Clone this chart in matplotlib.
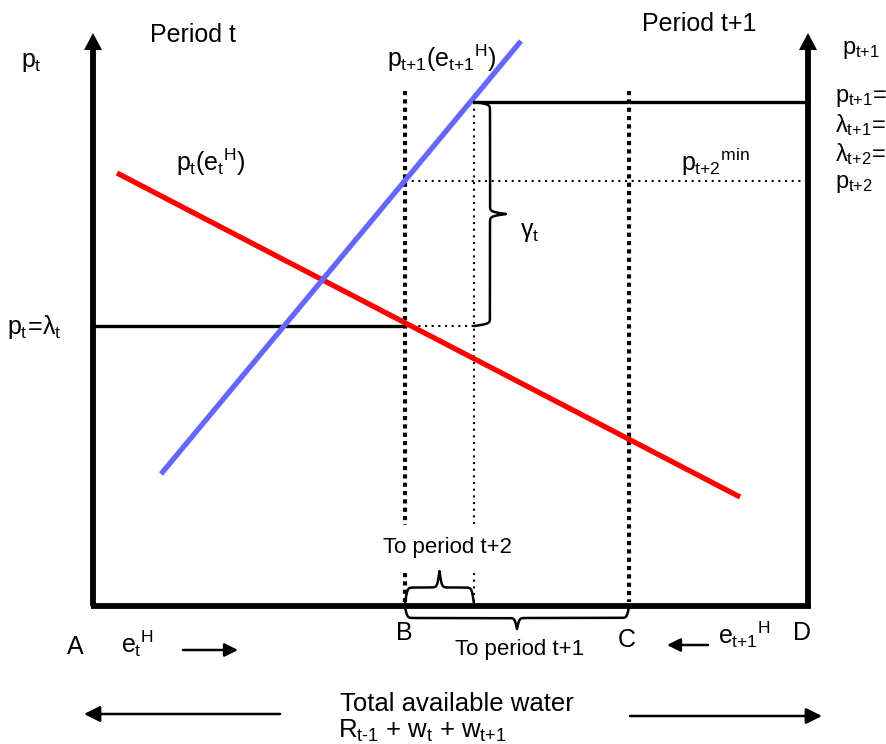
import numpy as np
import matplotlib
matplotlib.use("Agg")
import matplotlib.pyplot as plt

plt.rcParams['font.family'] = ['Liberation Sans', 'DejaVu Sans']
plt.rcParams['mathtext.fontset'] = 'custom'
plt.rcParams['mathtext.rm'] = 'Liberation Sans'
plt.rcParams['mathtext.it'] = 'Liberation Sans'
plt.rcParams['mathtext.bf'] = 'Liberation Sans:bold'

# diagram geometry, in picture units (x to the right, y downwards)
axis_left = 93
axis_right = 808
axis_bottom = 606
axis_top = 33

# demand curves
red_x = [117, 740]
red_y = [173, 497]
blue_x = [161, 521]
blue_y = [474, 41]

# points B, C and the cross point
x_B = 405
x_C = 629
x_cross = 474
p_t = 326
p_t1 = 102
p_min = 181

fig = plt.figure(figsize=(8.86, 7.44), dpi=100)
ax = fig.add_axes([0, 0, 1, 1])
ax.set_xlim(0, 886)
ax.set_ylim(744, 0)
ax.axis('off')


def brace(ax, a, b, pos, h, vertical, lw=1.8):
    # curly brace from a to b along one direction, bulging by h
    L = b - a
    u = np.linspace(0, L / 2, 300)
    k = 0.9
    sig = lambda z: 1 / (1 + np.exp(-z))
    v = sig(k * u) - 0.5 + sig(k * (u - L / 2))
    v = v - v[0]
    v = v / v[-1]
    uu = np.concatenate([u, L - u[::-1]]) + a
    vv = np.concatenate([v, v[::-1]]) * h + pos
    if vertical:
        ax.plot(vv, uu, color='black', lw=lw, solid_capstyle='round')
    else:
        ax.plot(uu, vv, color='black', lw=lw, solid_capstyle='round')


# axes
ax.plot([axis_left, axis_left], [axis_bottom, axis_top + 15], color='black', lw=4.2, solid_capstyle='butt')
ax.plot([axis_right, axis_right], [axis_bottom, axis_top + 15], color='black', lw=4.2, solid_capstyle='butt')
ax.plot([axis_left - 2, axis_right + 3], [axis_bottom, axis_bottom], color='black', lw=4.2, solid_capstyle='butt')
for xa in [axis_left, axis_right]:
    ax.fill([xa - 9, xa + 9, xa], [axis_top + 17, axis_top + 17, axis_top], color='black', lw=0)

# price levels
ax.plot([axis_left, x_B], [p_t, p_t], color='black', lw=2.4)
ax.plot([x_B, x_cross], [p_t, p_t], color='black', lw=1.5, ls=(0, (1, 2.2)))
ax.plot([x_cross, axis_right], [p_t1, p_t1], color='black', lw=2.4)
ax.plot([x_B, axis_right], [p_min, p_min], color='black', lw=1.5, ls=(0, (1, 2.2)))

# vertical dotted lines
ax.plot([x_B, x_B], [91, 525], color='black', lw=3.0, ls=(0, (1, 1)), dash_capstyle='butt')
ax.plot([x_B, x_B], [573, 602], color='black', lw=3.0, ls=(0, (1, 1)), dash_capstyle='butt')
ax.plot([x_C, x_C], [91, 602], color='black', lw=3.0, ls=(0, (1, 1)), dash_capstyle='butt')
ax.plot([x_cross, x_cross], [p_t1, 525], color='black', lw=1.5, ls=(0, (1, 2.2)))
ax.plot([x_cross, x_cross], [573, 604], color='black', lw=1.5, ls=(0, (1, 2.2)))

# curves
ax.plot(red_x, red_y, color='#ff0000', lw=3.8, solid_capstyle='butt')
ax.plot(blue_x, blue_y, color='#6666ff', lw=3.8, solid_capstyle='butt')

# braces
brace(ax, p_t1, p_t, x_cross, 32, vertical=True)
brace(ax, x_B, x_cross, 604, -33, vertical=False)
brace(ax, x_B, x_C, 607, 22, vertical=False)

fs = 18
ax.text(150, 35, 'Period t', fontsize=fs, va='center', ha='left')
ax.text(642, 24, 'Period t+1', fontsize=fs, va='center', ha='left')
ax.text(21, 62, r'$p_t$', fontsize=fs, va='center', ha='left')
ax.text(842, 50, r'$p_{\text{t+1}}$', fontsize=17, va='center', ha='left')
ax.text(176, 162, r'$p_t(e_t{}^H)$', fontsize=fs, va='center', ha='left')
ax.text(387, 58, r'$p_{\text{t+1}}(e_{\text{t+1}}{}^H)$', fontsize=fs, va='center', ha='left')
ax.text(681, 162, r'$p_{\text{t+2}}{}^{min}$', fontsize=fs, va='center', ha='left')
ax.text(7, 327, r'$p_t\!=\!λ_t$', fontsize=fs, va='center', ha='left')
ax.text(520, 232, r'$γ_t$', fontsize=fs, va='center', ha='left')
right_labels = [r'$p_{\text{t+1}}\!=$', r'$λ_{\text{t+1}}\!=$', r'$λ_{\text{t+2}}\!=$', r'$p_{\text{t+2}}$']
right_y = [98, 125, 154, 184]
for lab, yy in zip(right_labels, right_y):
    ax.text(835, yy, lab, fontsize=17, va='center', ha='left')

ax.text(383, 547, 'To period t+2', fontsize=16, va='center', ha='left')
ax.text(455, 650, 'To period t+1', fontsize=16, va='center', ha='left')
ax.text(67, 647, 'A', fontsize=fs, va='center', ha='left')
ax.text(396, 633, 'B', fontsize=fs, va='center', ha='left')
ax.text(618, 640, 'C', fontsize=fs, va='center', ha='left')
ax.text(793, 633, 'D', fontsize=fs, va='center', ha='left')
ax.text(121, 644, r'$e_t{}^H$', fontsize=fs, va='center', ha='left')
ax.text(718, 635, r'$e_{\text{t+1}}{}^H$', fontsize=fs, va='center', ha='left')
ax.text(340, 704, 'Total available water', fontsize=18.5, va='center', ha='left')
ax.text(338, 731, r'$R_{\text{t-1}}$ + $w_t$ + $w_{\text{t+1}}$', fontsize=18.5, va='center', ha='left')

# arrows
arr = dict(arrowstyle='-|>', color='black', lw=1.8, mutation_scale=20, shrinkA=0, shrinkB=0)
ax.annotate('', xy=(238, 650), xytext=(183, 650), arrowprops=arr)
ax.annotate('', xy=(667, 645), xytext=(708, 645), arrowprops=arr)
arr2 = dict(arrowstyle='-|>', color='black', lw=1.8, mutation_scale=24, shrinkA=0, shrinkB=0)
ax.annotate('', xy=(84, 714), xytext=(280, 714), arrowprops=arr2)
ax.annotate('', xy=(822, 716), xytext=(630, 716), arrowprops=arr2)

fig.savefig('out.png', dpi=100)
